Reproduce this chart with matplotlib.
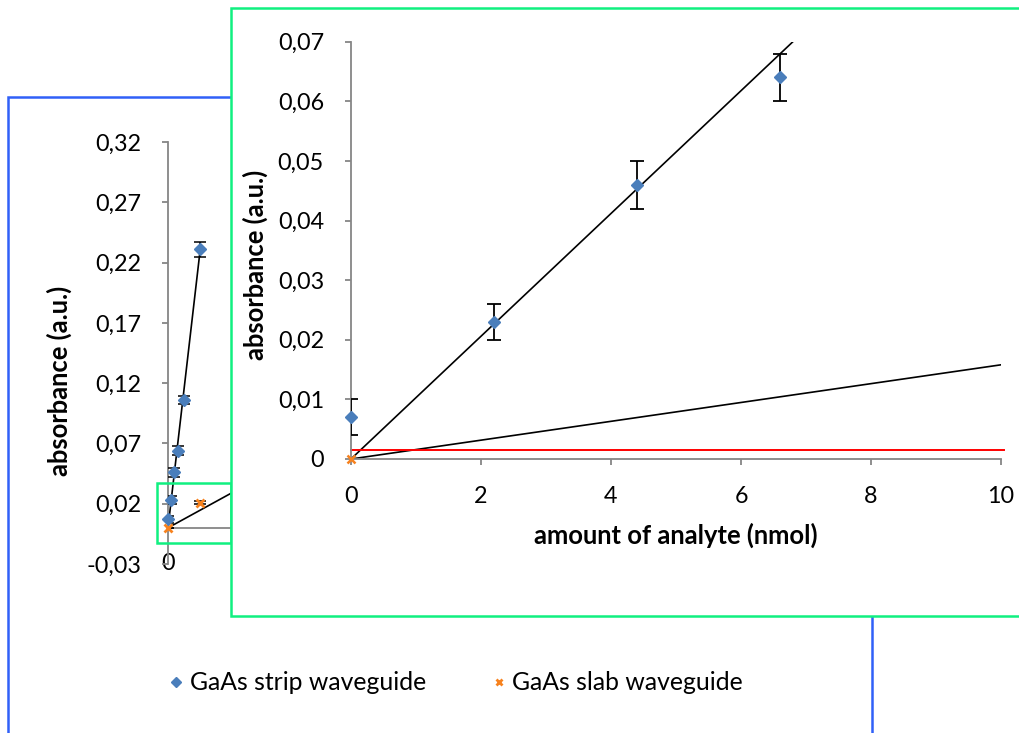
import numpy as np
import matplotlib
matplotlib.use("Agg")
import matplotlib.pyplot as plt
from matplotlib.patches import Rectangle
from matplotlib.lines import Line2D
from matplotlib.ticker import FuncFormatter

# strip waveguide (full range)
strip_x = [0, 2.2, 4.4, 6.6, 11, 22]
strip_y = [0.007, 0.023, 0.046, 0.064, 0.106, 0.231]
strip_err = [0.003, 0.003, 0.004, 0.004, 0.003, 0.006]
strip_slope = 0.0104

# slab waveguide
slab_x = [0, 22]
slab_y = [0.0, 0.021]
slab_err = [0.0, 0.001]
slab_slope_main = 0.00066
slab_slope_inset = 0.00158
red_level = 0.0015

main_yticks = [-0.03, 0.02, 0.07, 0.12, 0.17, 0.22, 0.27, 0.32]
main_xticks = [0]
inset_yticks = [0, 0.01, 0.02, 0.03, 0.04, 0.05, 0.06, 0.07]
inset_xticks = [0, 2, 4, 6, 8, 10]

BLUE = "#4A7EBB"
ORANGE = "#F7821E"
GRAY = "#868686"
W, H = 1019, 733

plt.rcParams["font.family"] = ["Lato", "DejaVu Sans"]
FS = 16.8      # tick labels
FS_LAB = 18.4  # axis titles
FS_LEG = 17.8


def box(x0, y0, x1, y1):
    # pixel box -> figure fraction [left, bottom, width, height]
    return [x0 / W, 1 - y1 / H, (x1 - x0) / W, (y1 - y0) / H]


def comma(v, pos):
    if abs(v) < 1e-9:
        return "0"
    return f"{v:.2f}".replace(".", ",")


def style(ax):
    for s in ("top", "right"):
        ax.spines[s].set_visible(False)
    for s in ("left", "bottom"):
        ax.spines[s].set_color(GRAY)
        ax.spines[s].set_linewidth(1.3)
    ax.tick_params(colors=GRAY, labelcolor="black", labelsize=FS, width=1.3, length=4.5, pad=15)
    ax.patch.set_visible(False)


fig = plt.figure(figsize=(W / 100, H / 100), dpi=100)

# ---- main chart ----
ax = fig.add_axes(box(168, 142, 850, 564))
style(ax)
ax.spines["bottom"].set_visible(False)
ax.axhline(0, color=GRAY, lw=1.3, zorder=1)
ax.set_xlim(0, 470)
ax.set_ylim(-0.03, 0.32)
ax.set_yticks(main_yticks)
ax.yaxis.set_major_formatter(FuncFormatter(comma))
ax.set_xticks(main_xticks)
ax.tick_params(axis="x", length=0, pad=-8)
ax.set_ylabel("absorbance (a.u.)", fontsize=FS_LAB, fontweight="bold")
ax.yaxis.set_label_coords((72 - 168) / 682, (564 - 381) / 422)

xs = np.array([0, strip_x[-1]])
ax.plot(xs, strip_slope * xs, color="black", lw=1.2, zorder=2)
xs2 = np.array([0, 100])
ax.plot(xs2, slab_slope_main * xs2, color="black", lw=1.2, zorder=2)
ax.errorbar(strip_x, strip_y, yerr=strip_err, fmt="none", ecolor="black", elinewidth=1.1, capsize=4, capthick=1.1, zorder=3)
ax.errorbar(slab_x, slab_y, yerr=slab_err, fmt="none", ecolor="black", elinewidth=1.1, capsize=4, capthick=1.1, zorder=3)
ax.plot(strip_x, strip_y, "D", color=BLUE, ms=6, zorder=4, clip_on=False)
ax.plot(slab_x, slab_y, "x", color=ORANGE, ms=6, mew=2, zorder=4, clip_on=False)

# chart borders
fig.patches.append(Rectangle((8 / W, -0.05), (872 - 8) / W, 1 - 97 / H + 0.05, transform=fig.transFigure,
                             fill=False, edgecolor="#3060F8", lw=1.8, zorder=0.5))
fig.patches.append(Rectangle((157 / W, 1 - 543 / H), (231 - 157) / W, (543 - 483) / H, transform=fig.transFigure,
                             fill=False, edgecolor="#10F080", lw=1.8, zorder=0.6))
fig.patches.append(Rectangle((231 / W, 1 - 616 / H), 1.0, (616 - 8) / H, transform=fig.transFigure,
                             facecolor="white", edgecolor="#10F080", lw=1.8, zorder=1))

# ---- inset ----
ins = fig.add_axes(box(351, 41.7, 1001, 459))
ins.set_zorder(2)
style(ins)
ins.set_xlim(0, 10)
ins.set_ylim(0, 0.07)
ins.set_xticks(inset_xticks)
ins.set_yticks(inset_yticks)
ins.yaxis.set_major_formatter(FuncFormatter(comma))
ins.set_xlabel("amount of analyte (nmol)", fontsize=FS_LAB, fontweight="bold")
ins.xaxis.set_label_coords(0.5, -(523 - 459) / 417.3)
ins.set_ylabel("absorbance (a.u.)", fontsize=FS_LAB, fontweight="bold")
ins.yaxis.set_label_coords((268 - 351) / 650, (459 - 265) / 417.3)

xi = np.array([0, 10])
ins.plot(xi, strip_slope * 0.99 * xi, color="black", lw=1.2, zorder=2)
ins.plot(xi, slab_slope_inset * xi, color="black", lw=1.2, zorder=2)
ins.plot([0, 10.05], [red_level, red_level], color="#FF0000", lw=1.4, zorder=2, clip_on=False)
ins.errorbar(strip_x, strip_y, yerr=strip_err, fmt="none", ecolor="black", elinewidth=1.3, capsize=5, capthick=1.3, zorder=3)
ins.plot(strip_x[:4], strip_y[:4], "D", color=BLUE, ms=6, zorder=4, clip_on=False)
ins.plot(slab_x[:1], slab_y[:1], "x", color=ORANGE, ms=6, mew=1.8, zorder=4, clip_on=False)

# ---- legend ----
handles = [Line2D([], [], ls="none", marker="D", color=BLUE, ms=5),
           Line2D([], [], ls="none", marker="x", color=ORANGE, ms=5, mew=2)]
fig.legend(handles, ["GaAs strip waveguide", "GaAs slab waveguide"], loc="center left",
           bbox_to_anchor=(168.5 / W, 1 - 683 / H), ncol=2, frameon=False, fontsize=FS_LEG,
           borderpad=0, borderaxespad=0, handlelength=0.6, handletextpad=0.25, columnspacing=2.65)

fig.savefig("out.png", dpi=100)
